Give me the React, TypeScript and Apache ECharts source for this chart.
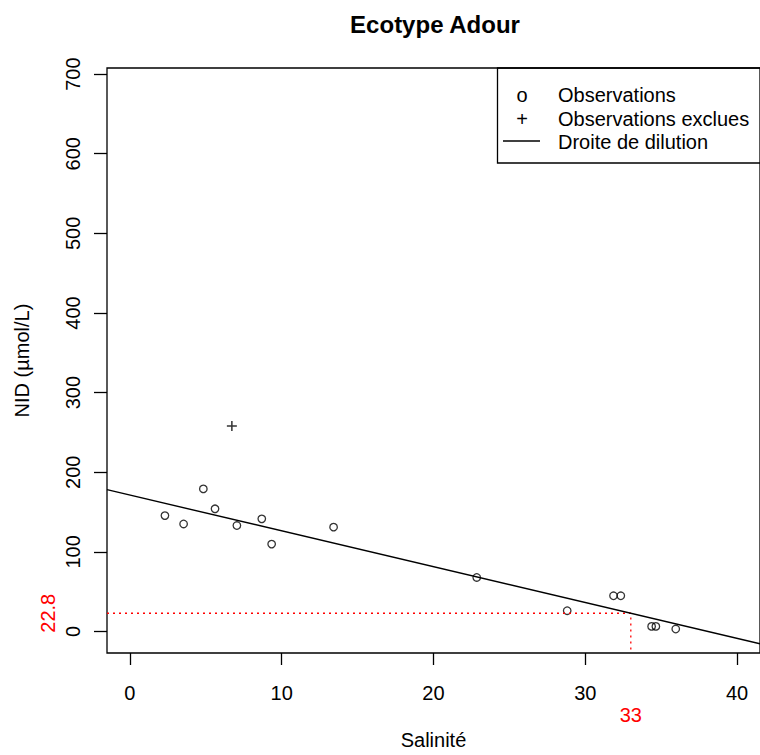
import React, { useEffect, useRef } from "react";
import * as echarts from "echarts";

// Observations (Salinité, NID µmol/L)
const salinity = [2.31, 3.54, 4.84, 5.61, 7.05, 8.69, 9.34, 13.42, 22.85, 28.81, 31.86, 32.34, 34.37, 34.65, 35.96];
const nid = [145.5, 135, 179, 154, 133, 141.4, 109.7, 131, 67.8, 26, 44.8, 44.8, 6.3, 6.3, 3];
// Excluded observations
const excludedSalinity = [6.72];
const excludedNid = [258];
// Dilution line (intercept, slope)
const dilutionIntercept = 171.3;
const dilutionSlope = -4.5;
// Reference point
const refSalinity = 33;
const refNid = 22.8;
// Ticks
const xTicks = [0, 10, 20, 30, 40];
const yTicks = [0, 100, 200, 300, 400, 500, 600, 700];
const legendLabels = ["Observations", "Observations exclues", "Droite de dilution"];
const legendSymbols = ["o", "+", ""];

const X_MIN = -1.506;
const X_MAX = 41.51;
const Y_MIN = -27.1;
const Y_MAX = 707.7;

const FONT = "'Liberation Sans', Arial, Helvetica, sans-serif";

export default function App() {
  const ref = useRef<HTMLDivElement>(null);
  useEffect(() => {
    if (!ref.current) return;
    const chart = echarts.init(ref.current, undefined, { renderer: "svg" });
    const obs = salinity.map((s, i) => [s, nid[i]]);
    const excl = excludedSalinity.map((s, i) => [s, excludedNid[i]]);
    const lineData = [X_MIN, X_MAX].map((x) => [x, dilutionIntercept + dilutionSlope * x]);
    const refData = [
      [X_MIN, refNid],
      [refSalinity, refNid],
      [refSalinity, Y_MIN],
    ];
    const txt = { color: "#000", fontSize: 20, fontFamily: FONT };
    const legendX = 497.5;
    const legendTop = 68;
    const rowY = [95, 118.5, 142];
    const graphic: any[] = [
      {
        type: "rect",
        shape: { x: legendX, y: legendTop, width: 300, height: 95 },
        style: { fill: "none", stroke: "#000", lineWidth: 1.3 },
      },
    ];
    legendLabels.forEach((lab, i) => {
      graphic.push({
        type: "text",
        x: 558,
        y: rowY[i],
        style: { text: lab, fill: "#000", font: `20px ${FONT}`, textAlign: "left", textVerticalAlign: "middle" },
      });
      if (legendSymbols[i]) {
        graphic.push({
          type: "text",
          x: 522,
          y: rowY[i],
          style: { text: legendSymbols[i], fill: "#000", font: `20px ${FONT}`, textAlign: "center", textVerticalAlign: "middle" },
        });
      } else {
        graphic.push({
          type: "line",
          shape: { x1: 503, y1: rowY[i] - 1, x2: 540, y2: rowY[i] - 1 },
          style: { stroke: "#000", lineWidth: 1.4 },
        });
      }
    });

    const hiddenLine = { show: false, onZero: false };

    chart.setOption({
      animation: false,
      backgroundColor: "#fff",
      title: {
        text: "Ecotype Adour",
        left: 430,
        top: 7,
        textAlign: "center",
        textStyle: { color: "#000", fontSize: 24, fontWeight: "bold", fontFamily: FONT },
      },
      grid: {
        left: 107,
        top: 68,
        width: 657,
        height: 585,
        show: true,
        borderColor: "#000",
        borderWidth: 1.3,
        backgroundColor: "transparent",
        containLabel: false,
      },
      xAxis: [
        {
          type: "value",
          min: X_MIN,
          max: X_MAX,
          position: "bottom",
          axisLine: hiddenLine,
          splitLine: { show: false },
          axisTick: { show: true, inside: false, length: 12, customValues: xTicks, lineStyle: { color: "#000", width: 1.3 } },
          axisLabel: { customValues: xTicks, margin: 30, ...txt },
          name: "Salinité",
          nameLocation: "middle",
          nameGap: 77,
          nameTextStyle: { ...txt },
        },
        {
          type: "value",
          min: X_MIN,
          max: X_MAX,
          position: "bottom",
          axisLine: hiddenLine,
          splitLine: { show: false },
          axisTick: { show: false },
          axisLabel: { customValues: [refSalinity], margin: 52, ...txt, color: "#ff0000" },
        },
      ],
      yAxis: [
        {
          type: "value",
          min: Y_MIN,
          max: Y_MAX,
          position: "left",
          axisLine: hiddenLine,
          splitLine: { show: false },
          axisTick: { show: true, inside: false, length: 13, customValues: yTicks, lineStyle: { color: "#000", width: 1.3 } },
          axisLabel: { customValues: yTicks, margin: 24, rotate: 90, ...txt },
          name: "NID (µmol/L)",
          nameLocation: "middle",
          nameRotate: 90,
          nameGap: 75,
          nameTextStyle: { ...txt },
        },
        {
          type: "value",
          min: Y_MIN,
          max: Y_MAX,
          position: "left",
          offset: 0,
          axisLine: hiddenLine,
          splitLine: { show: false },
          axisTick: { show: false },
          axisLabel: { customValues: [refNid], margin: 49, rotate: 90, ...txt, color: "#ff0000" },
        },
      ],
      series: [
        {
          type: "line",
          data: refData,
          symbol: "none",
          silent: true,
          lineStyle: { color: "#ff0000", width: 1.3, type: [2, 4] },
        },
        {
          type: "line",
          data: lineData,
          symbol: "none",
          silent: true,
          lineStyle: { color: "#000", width: 1.4 },
        },
        {
          type: "scatter",
          data: obs,
          symbol: "circle",
          symbolSize: 7.5,
          silent: true,
          itemStyle: { color: "rgba(0,0,0,0)", borderColor: "#000", borderWidth: 1.3 },
        },
        {
          type: "scatter",
          data: excl,
          symbol: "path://M0,5 L10,5 M5,0 L5,10",
          symbolSize: 10,
          silent: true,
          itemStyle: { color: "rgba(0,0,0,0)", borderColor: "#000", borderWidth: 1.5 },
        },
      ],
      graphic,
    });
    return () => chart.dispose();
  }, []);
  return (
    <div
      ref={ref}
      style={{ position: "fixed", left: 0, top: 0, width: 760, height: 755, background: "#fff" }}
    />
  );
}
